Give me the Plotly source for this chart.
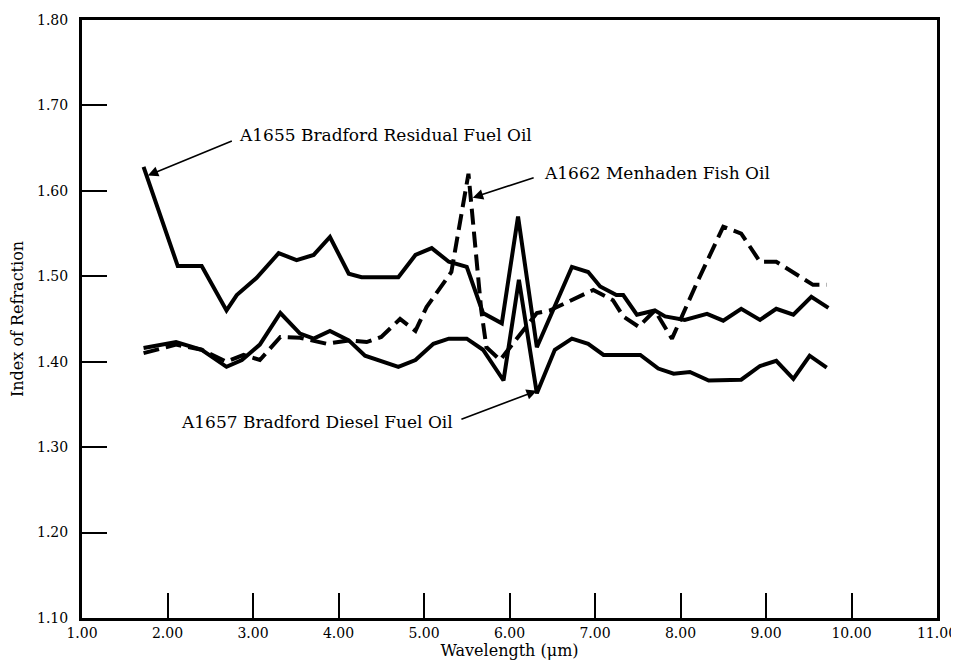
import plotly.graph_objects as go

# index of refraction vs wavelength

residual_wl = [1.72, 2.12, 2.40, 2.69, 2.81, 3.04, 3.30, 3.51, 3.71, 3.90, 4.12, 4.27, 4.70, 4.90,
               5.09, 5.29, 5.50, 5.69, 5.91, 6.10, 6.32, 6.73, 6.92, 7.06, 7.25, 7.33, 7.49, 7.70,
               7.82, 8.05, 8.31, 8.50, 8.71, 8.93, 9.12, 9.32, 9.53, 9.73]
residual_n = [1.628, 1.512, 1.512, 1.460, 1.478, 1.498, 1.527, 1.519, 1.525, 1.546, 1.503, 1.499,
              1.499, 1.525, 1.533, 1.517, 1.511, 1.457, 1.445, 1.570, 1.417, 1.511, 1.505, 1.488,
              1.478, 1.478, 1.455, 1.460, 1.453, 1.449, 1.456, 1.448, 1.462, 1.449, 1.462, 1.455,
              1.476, 1.463]

diesel_wl = [1.72, 2.10, 2.40, 2.69, 2.87, 3.08, 3.32, 3.55, 3.71, 3.90, 4.12, 4.31, 4.70, 4.90,
             5.11, 5.29, 5.50, 5.69, 5.93, 6.11, 6.32, 6.53, 6.73, 6.92, 7.10, 7.53, 7.74, 7.92,
             8.11, 8.33, 8.71, 8.93, 9.12, 9.32, 9.51, 9.71]
diesel_n = [1.416, 1.423, 1.414, 1.394, 1.402, 1.420, 1.457, 1.433, 1.427, 1.436, 1.425, 1.407,
            1.394, 1.402, 1.421, 1.427, 1.427, 1.414, 1.378, 1.496, 1.363, 1.414, 1.427, 1.421,
            1.408, 1.408, 1.392, 1.386, 1.388, 1.378, 1.379, 1.395, 1.401, 1.380, 1.407, 1.393]

fish_wl = [1.72, 2.10, 2.40, 2.69, 2.89, 3.08, 3.32, 3.55, 3.86, 4.13, 4.33, 4.50, 4.72, 4.90,
           5.03, 5.32, 5.52, 5.67, 5.73, 5.89, 6.32, 6.47, 6.98, 7.21, 7.33, 7.51, 7.70, 7.90,
           8.19, 8.50, 8.71, 8.93, 9.12, 9.34, 9.55, 9.71]
fish_n = [1.410, 1.420, 1.414, 1.400, 1.408, 1.402, 1.429, 1.428, 1.421, 1.425, 1.423, 1.429,
          1.450, 1.436, 1.464, 1.505, 1.620, 1.460, 1.417, 1.402, 1.457, 1.460, 1.484, 1.472,
          1.453, 1.441, 1.460, 1.427, 1.492, 1.558, 1.550, 1.517, 1.517, 1.503, 1.490, 1.490]

x_ticks = [1, 2, 3, 4, 5, 6, 7, 8, 9, 10, 11]
y_ticks = [1.1, 1.2, 1.3, 1.4, 1.5, 1.6, 1.7, 1.8]

# label text, text anchor, arrow tail, arrow tip (data coords)
labels = [
    ("A1655 Bradford Residual Fuel Oil", (2.81, 1.665), "left", (2.77, 1.659), (1.77, 1.618)),
    ("A1662 Menhaden Fish Oil", (6.38, 1.621), "left", (6.30, 1.616), (5.57, 1.592)),
    ("A1657 Bradford Diesel Fuel Oil", (5.36, 1.330), "right", (5.42, 1.332), (6.32, 1.366)),
]

SERIF = "DejaVu Serif"

fig = go.Figure()
fig.add_trace(go.Scatter(x=residual_wl, y=residual_n, mode="lines",
                         line=dict(color="black", width=4), name="A1655"))
fig.add_trace(go.Scatter(x=diesel_wl, y=diesel_n, mode="lines",
                         line=dict(color="black", width=4), name="A1657"))
fig.add_trace(go.Scatter(x=fish_wl, y=fish_n, mode="lines",
                         line=dict(color="black", width=4, dash="16px,7px"), name="A1662"))

for text, (tx, ty), anchor, (ax, ay), (hx, hy) in labels:
    fig.add_annotation(x=tx, y=ty, text=text, showarrow=False, xanchor=anchor, yanchor="middle",
                       font=dict(family=SERIF, size=17, color="black"))
    fig.add_annotation(x=hx, y=hy, ax=ax, ay=ay, axref="x", ayref="y", text="",
                       showarrow=True, arrowhead=2, arrowsize=1.3, arrowwidth=1.6,
                       arrowcolor="black")

fig.update_xaxes(range=[1, 11], tickvals=x_ticks, ticktext=["%.2f" % v for v in x_ticks],
                 ticks="inside", ticklen=25, tickwidth=2, tickcolor="black",
                 showline=True, linewidth=3, linecolor="black", mirror=True,
                 showgrid=False, zeroline=False, automargin=False,
                 tickfont=dict(family=SERIF, size=14, color="black"),
                 title=dict(text="Wavelength (\u03bcm)", standoff=2,
                            font=dict(family=SERIF, size=16, color="black")))
fig.update_yaxes(range=[1.1, 1.8], tickvals=y_ticks, ticktext=["%.2f" % v for v in y_ticks],
                 ticks="inside", ticklen=25, tickwidth=2, tickcolor="black",
                 showline=True, linewidth=3, linecolor="black", mirror=True,
                 showgrid=False, zeroline=False, automargin=False, ticklabelstandoff=8,
                 tickfont=dict(family=SERIF, size=14, color="black"),
                 title=dict(text="Index of Refraction", standoff=10,
                            font=dict(family=SERIF, size=16, color="black")))

# the page body adds an 8px offset, so the margins are shifted to compensate
fig.update_layout(width=959, height=665, margin=dict(l=74, r=30, t=12, b=55),
                  plot_bgcolor="white", paper_bgcolor="white", showlegend=False)

fig.write_html("out.html")
